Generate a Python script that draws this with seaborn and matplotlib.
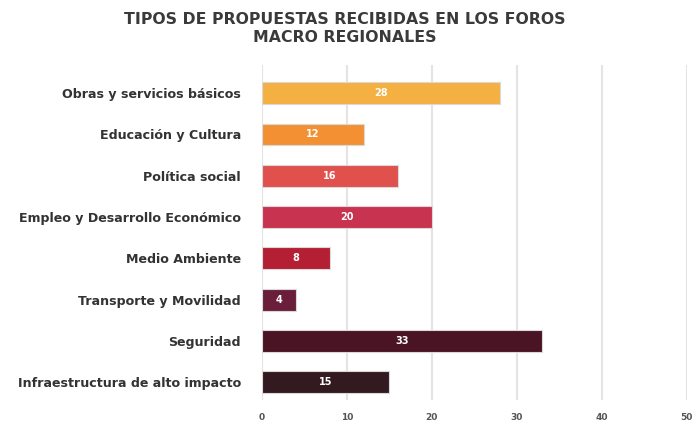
import pandas as pd
import matplotlib
matplotlib.use("Agg")
import matplotlib.pyplot as plt
import seaborn as sns

categories = [
    "Obras y servicios básicos",
    "Educación y Cultura",
    "Política social",
    "Empleo y Desarrollo Económico",
    "Medio Ambiente",
    "Transporte y Movilidad",
    "Seguridad",
    "Infraestructura de alto impacto",
]
values = [28, 12, 16, 20, 8, 4, 33, 15]
colors = ["#F4B041", "#F39033", "#E0504D", "#C8334F",
          "#B41F33", "#6B1E3A", "#4A1425", "#321A20"]
xticks = [0, 10, 20, 30, 40, 50]

df = pd.DataFrame({"tipo": categories, "n": values})

sns.set_style("white")
fig = plt.figure(figsize=(6.93, 4.28), dpi=100)
ax = fig.add_axes([0.378, 0.065, 0.613, 0.783])

sns.barplot(data=df, y="tipo", x="n", hue="tipo", palette=colors,
            saturation=1, legend=False, width=0.53, edgecolor="#d9d9d9",
            linewidth=0.8, ax=ax, zorder=3)

for i, v in enumerate(values):
    ax.text(v / 2, i, str(v), ha="center", va="center", color="white",
            fontsize=7, fontweight="bold", family="DejaVu Sans", zorder=4)

ax.set_xlim(0, 50)
ax.set_ylim(7.43, -0.68)
ax.set_xticks(xticks)
ax.set_xticklabels([str(t) for t in xticks], fontsize=6.5, fontweight="bold",
                   color="#555555", family="DejaVu Sans")
ax.tick_params(axis="x", length=0, pad=9)
ax.tick_params(axis="y", length=0, pad=15)
for lab in ax.get_yticklabels():
    lab.set_fontsize(9.1)
    lab.set_fontweight("bold")
    lab.set_color("#333333")
    lab.set_family("DejaVu Sans")
ax.grid(axis="x", color="#e4e4e4", linewidth=1.5, zorder=0)
ax.grid(axis="y", visible=False)
for s in ax.spines.values():
    s.set_visible(False)
ax.set_xlabel("")
ax.set_ylabel("")

fig.text(0.498, 0.933, "TIPOS DE PROPUESTAS RECIBIDAS EN LOS FOROS\nMACRO REGIONALES",
         ha="center", va="center", fontsize=11.3, fontweight="heavy",
         color="#3a3a3a", family="DejaVu Sans", linespacing=1.2)

fig.savefig("out.png", dpi=100)
